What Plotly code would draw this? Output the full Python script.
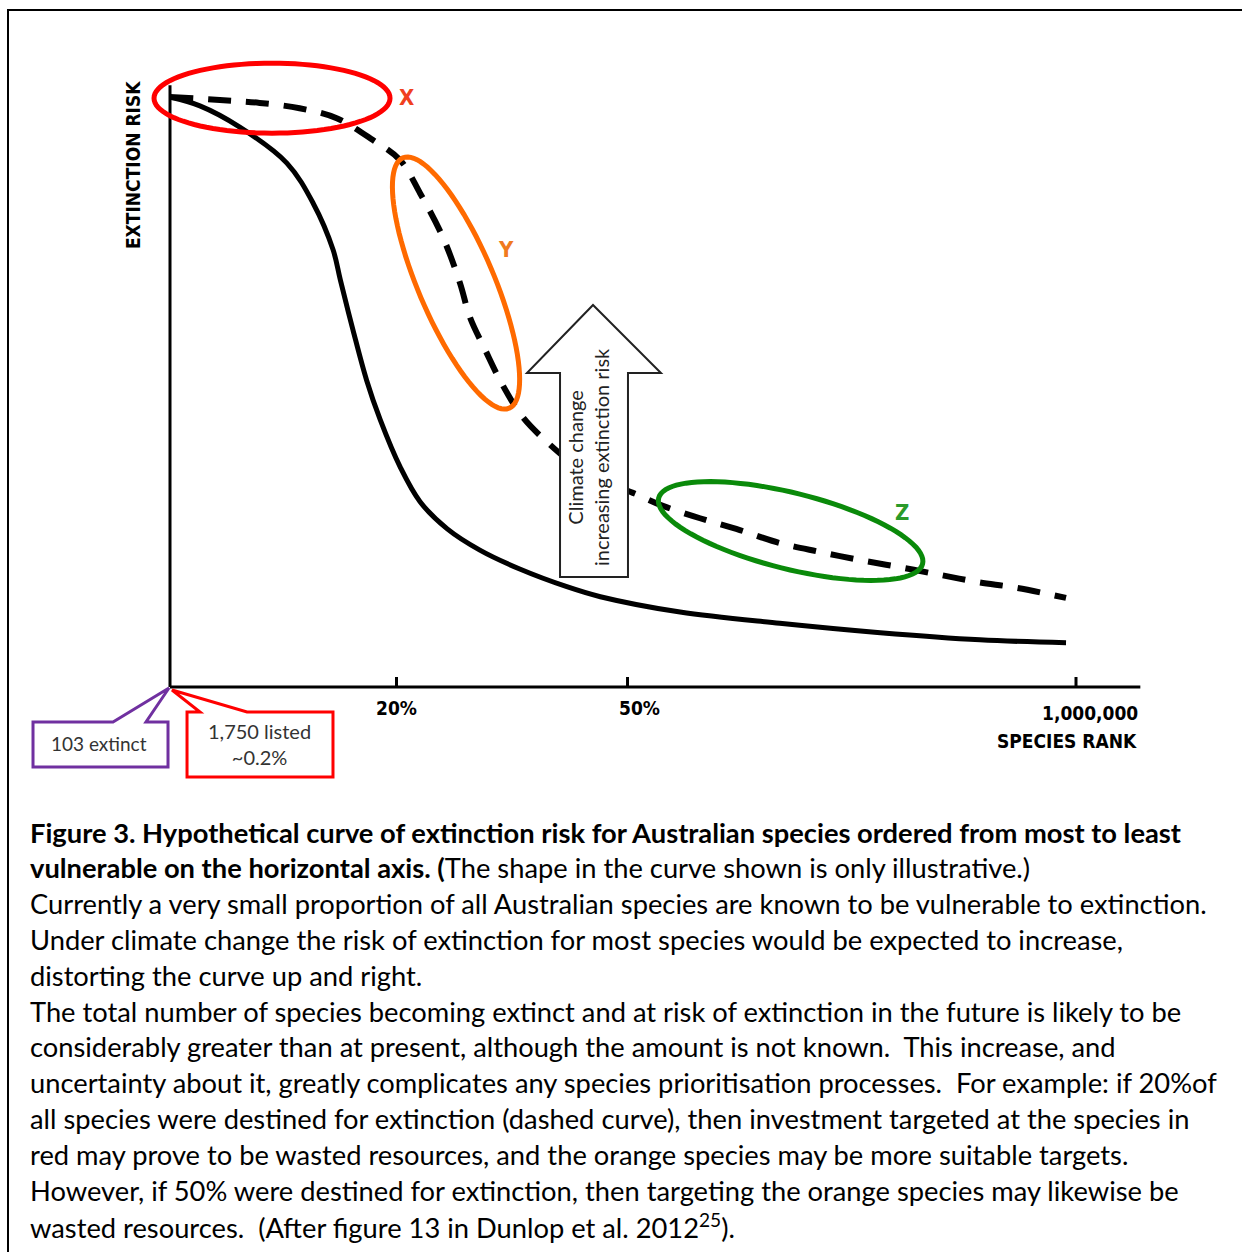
import math
import plotly.graph_objects as go

# ---------------- data (rank fraction 0..1 -> 1,000,000 species ; risk 0..1) -------------
rank_now = [0.000, 0.033, 0.077, 0.129, 0.158, 0.180, 0.188, 0.202, 0.217, 0.232, 0.254,
            0.276, 0.306, 0.342, 0.386, 0.438, 0.475, 0.563, 0.673, 0.784, 0.894, 0.989]
risk_now = [1.000, 0.985, 0.949, 0.888, 0.820, 0.741, 0.690, 0.605, 0.520, 0.453, 0.373,
            0.314, 0.268, 0.232, 0.200, 0.170, 0.153, 0.127, 0.108, 0.092, 0.080, 0.075]

rank_future = [0.000, 0.055, 0.099, 0.143, 0.184, 0.224, 0.254, 0.276, 0.301, 0.320, 0.331,
               0.348, 0.366, 0.389, 0.417, 0.447, 0.480, 0.511, 0.544, 0.585, 0.629, 0.673,
               0.717, 0.762, 0.806, 0.850, 0.891, 0.935, 0.989]
risk_future = [1.000, 0.995, 0.990, 0.981, 0.964, 0.927, 0.893, 0.837, 0.763, 0.685, 0.627,
               0.571, 0.515, 0.458, 0.414, 0.376, 0.347, 0.329, 0.307, 0.286, 0.266, 0.244,
               0.229, 0.215, 0.203, 0.190, 0.178, 0.168, 0.151]

tick_pos = [0.25, 0.505, 1.0]
tick_text = ["20%", "50%", "1,000,000"]
x_title = "SPECIES RANK"
y_title = "EXTINCTION RISK"
group_labels = ["X", "Y", "Z"]
callout_extinct = "103 extinct"
callout_listed = "1,750 listed<br>~0.2%"
arrow_text = "Climate change<br>increasing extinction risk"

caption_lines = [
    "<b>Figure 3. Hypothetical curve of extinction risk for Australian species ordered from most to least</b>",
    "<b>vulnerable on the horizontal axis. (</b>The shape in the curve shown is only illustrative.)",
    "Currently a very small proportion of all Australian species are known to be vulnerable to extinction.",
    "Under climate change the risk of extinction for most species would be expected to increase,",
    "distorting the curve up and right.",
    "The total number of species becoming extinct and at risk of extinction in the future is likely to be",
    "considerably greater than at present, although the amount is not known.&nbsp; This increase, and",
    "uncertainty about it, greatly complicates any species prioritisation processes.&nbsp; For example: if 20%of",
    "all species were destined for extinction (dashed curve), then investment targeted at the species in",
    "red may prove to be wasted resources, and the orange species may be more suitable targets.",
    "However, if 50% were destined for extinction, then targeting the orange species may likewise be",
    "wasted resources.&nbsp; (After figure 13 in Dunlop et al. 2012<sup>25</sup>).",
]

# ---------------- geometry of the canvas ----------------
W, H = 1242, 1252
X0PX, X1PX = 170, 1076     # pixel of rank 0 and rank 1
Y0PX, Y1PX = 687, 97       # pixel of risk 0 and risk 1
SX = X1PX - X0PX
SY = Y0PX - Y1PX
xr = [-X0PX / SX, (W - X0PX) / SX]
yr = [(Y0PX - H) / SY, Y0PX / SY]

TEXT_FONT = "Lato, Carlito, Calibri, 'Noto Sans', sans-serif"
NARROW_BOLD = "'Liberation Sans Narrow', 'Arial Narrow', 'DejaVu Sans Condensed', 'Liberation Sans', sans-serif"


def ellipse_path(cx, cy, a, b, ang):
    th = math.radians(ang)
    pts = []
    for k in range(97):
        t = 2 * math.pi * k / 96
        dx = a * math.cos(t) * math.cos(th) - b * math.sin(t) * math.sin(th)
        dy = a * math.cos(t) * math.sin(th) + b * math.sin(t) * math.cos(th)
        pts.append((cx + dx / SX, cy - dy / SY))
    return "M " + " L ".join(f"{x:.5f},{y:.5f}" for x, y in pts) + " Z"


def poly_path(pts):
    return "M " + " L ".join(f"{x:.4f},{y:.4f}" for x, y in pts) + " Z"


fig = go.Figure()
fig.add_trace(go.Scatter(x=rank_now, y=risk_now, mode="lines",
                         line=dict(color="black", width=5, shape="spline", smoothing=1.0),
                         hoverinfo="skip"))
fig.add_trace(go.Scatter(x=rank_future, y=risk_future, mode="lines",
                         line=dict(color="black", width=6, dash="23px,15px", shape="spline", smoothing=1.0),
                         hoverinfo="skip"))

shapes = []
# axes
shapes.append(dict(type="line", xref="x", yref="y", x0=0, x1=0, y0=0, y1=1.02,
                   line=dict(color="black", width=3)))
shapes.append(dict(type="line", xref="x", yref="y", x0=0, x1=1.071, y0=0, y1=0,
                   line=dict(color="black", width=3)))
for tp in tick_pos:
    shapes.append(dict(type="line", xref="x", yref="y", x0=tp, x1=tp, y0=0, y1=0.017,
                       line=dict(color="black", width=3)))

# ellipses
shapes.append(dict(type="path", xref="x", yref="y", path=ellipse_path(0.1126, 0.998, 118, 35, 0),
                   line=dict(color="#ff0000", width=5)))
shapes.append(dict(type="path", xref="x", yref="y", path=ellipse_path(0.3157, 0.6847, 136, 38, 67),
                   line=dict(color="#ff6a00", width=5)))
shapes.append(dict(type="path", xref="x", yref="y", path=ellipse_path(0.685, 0.2644, 136, 38, 14),
                   line=dict(color="#0a8a0a", width=5)))

# block arrow
shapes.append(dict(type="path", xref="x", yref="y",
                   path=poly_path([(0.4305, 0.1864), (0.4305, 0.5322), (0.3940, 0.5322), (0.4669, 0.6475),
                                   (0.5419, 0.5322), (0.5055, 0.5322), (0.5055, 0.1864)]),
                   line=dict(color="#222222", width=2), fillcolor="white"))

# callouts
shapes.append(dict(type="path", xref="x", yref="y",
                   path=poly_path([(-0.1512, -0.0593), (-0.0629, -0.0593), (-0.0011, -0.0017),
                                   (-0.0265, -0.0593), (-0.0022, -0.0593), (-0.0022, -0.1356),
                                   (-0.1512, -0.1356)]),
                   line=dict(color="#7030a0", width=3), fillcolor="white"))
shapes.append(dict(type="path", xref="x", yref="y",
                   path=poly_path([(0.0188, -0.0424), (0.0331, -0.0424), (0.0022, -0.0051),
                                   (0.0850, -0.0424), (0.1799, -0.0424), (0.1799, -0.1525),
                                   (0.0188, -0.1525)]),
                   line=dict(color="#ff0000", width=3), fillcolor="white"))

# outer frame
shapes.append(dict(type="rect", xref="paper", yref="paper", x0=8 / W, x1=1.02, y0=-0.02, y1=1 - 10 / H,
                   line=dict(color="black", width=2), layer="below"))

ann = []
# tick labels
ann.append(dict(x=tick_pos[0], y=0, xref="x", yref="y", text=f"<b>{tick_text[0]}</b>", showarrow=False,
                xanchor="center", yanchor="middle", yshift=-21,
                font=dict(family=NARROW_BOLD, size=19, color="black")))
ann.append(dict(x=tick_pos[1], y=0, xref="x", yref="y", text=f"<b>{tick_text[1]}</b>", showarrow=False,
                xanchor="center", yanchor="middle", yshift=-21, xshift=12,
                font=dict(family=NARROW_BOLD, size=19, color="black")))
ann.append(dict(x=1.071, y=0, xref="x", yref="y", text=f"<b>{tick_text[2]}</b>", showarrow=False,
                xanchor="right", yanchor="middle", yshift=-26,
                font=dict(family=NARROW_BOLD, size=19, color="black")))
ann.append(dict(x=1.069, y=0, xref="x", yref="y", text=f"<b>{x_title}</b>", showarrow=False,
                xanchor="right", yanchor="middle", yshift=-54,
                font=dict(family=NARROW_BOLD, size=19, color="black")))
ann.append(dict(x=-0.0408, y=0.8847, xref="x", yref="y", text=f"<b>{y_title}</b>", showarrow=False,
                textangle=-90, xanchor="center", yanchor="middle",
                font=dict(family=NARROW_BOLD, size=19, color="black")))

# group labels
for lab, (gx, gy), col in zip(group_labels,
                              [(0.2605, 1.0), (0.3709, 0.7407), (0.8079, 0.2966)],
                              ["#f0401e", "#f07a1e", "#2a9a2a"]):
    ann.append(dict(x=gx, y=gy, xref="x", yref="y", text=f"<b>{lab}</b>", showarrow=False,
                    xanchor="center", yanchor="middle",
                    font=dict(family=NARROW_BOLD, size=22, color=col)))

# arrow text
ann.append(dict(x=0.4614, y=0.3898, xref="x", yref="y", text=arrow_text, showarrow=False,
                textangle=-90, xanchor="center", yanchor="middle",
                font=dict(family=TEXT_FONT, size=20, color="#222222")))

# callout text
ann.append(dict(x=-0.0784, y=-0.0966, xref="x", yref="y", text=callout_extinct, showarrow=False,
                xanchor="center", yanchor="middle",
                font=dict(family=TEXT_FONT, size=19, color="#333333")))
ann.append(dict(x=0.0993, y=-0.0966, xref="x", yref="y", text=callout_listed, showarrow=False,
                xanchor="center", yanchor="middle",
                font=dict(family=TEXT_FONT, size=20, color="#333333")))

# caption
for i, line in enumerate(caption_lines):
    py = 832 + 35.8 * i
    ann.append(dict(x=28 / W, y=1 - py / H, xref="paper", yref="paper", text=line, showarrow=False,
                    xanchor="left", yanchor="middle", align="left",
                    font=dict(family=TEXT_FONT, size=27.3, color="black")))

fig.update_layout(
    width=W, height=H,
    margin=dict(l=0, r=0, t=0, b=0),
    paper_bgcolor="white", plot_bgcolor="white",
    showlegend=False,
    xaxis=dict(range=xr, visible=False, fixedrange=True),
    yaxis=dict(range=yr, visible=False, fixedrange=True),
    shapes=shapes, annotations=ann,
)

fig.write_html("out.html", config={"displayModeBar": False},
               post_script="document.body.style.margin='0';document.body.style.overflow='hidden';")
